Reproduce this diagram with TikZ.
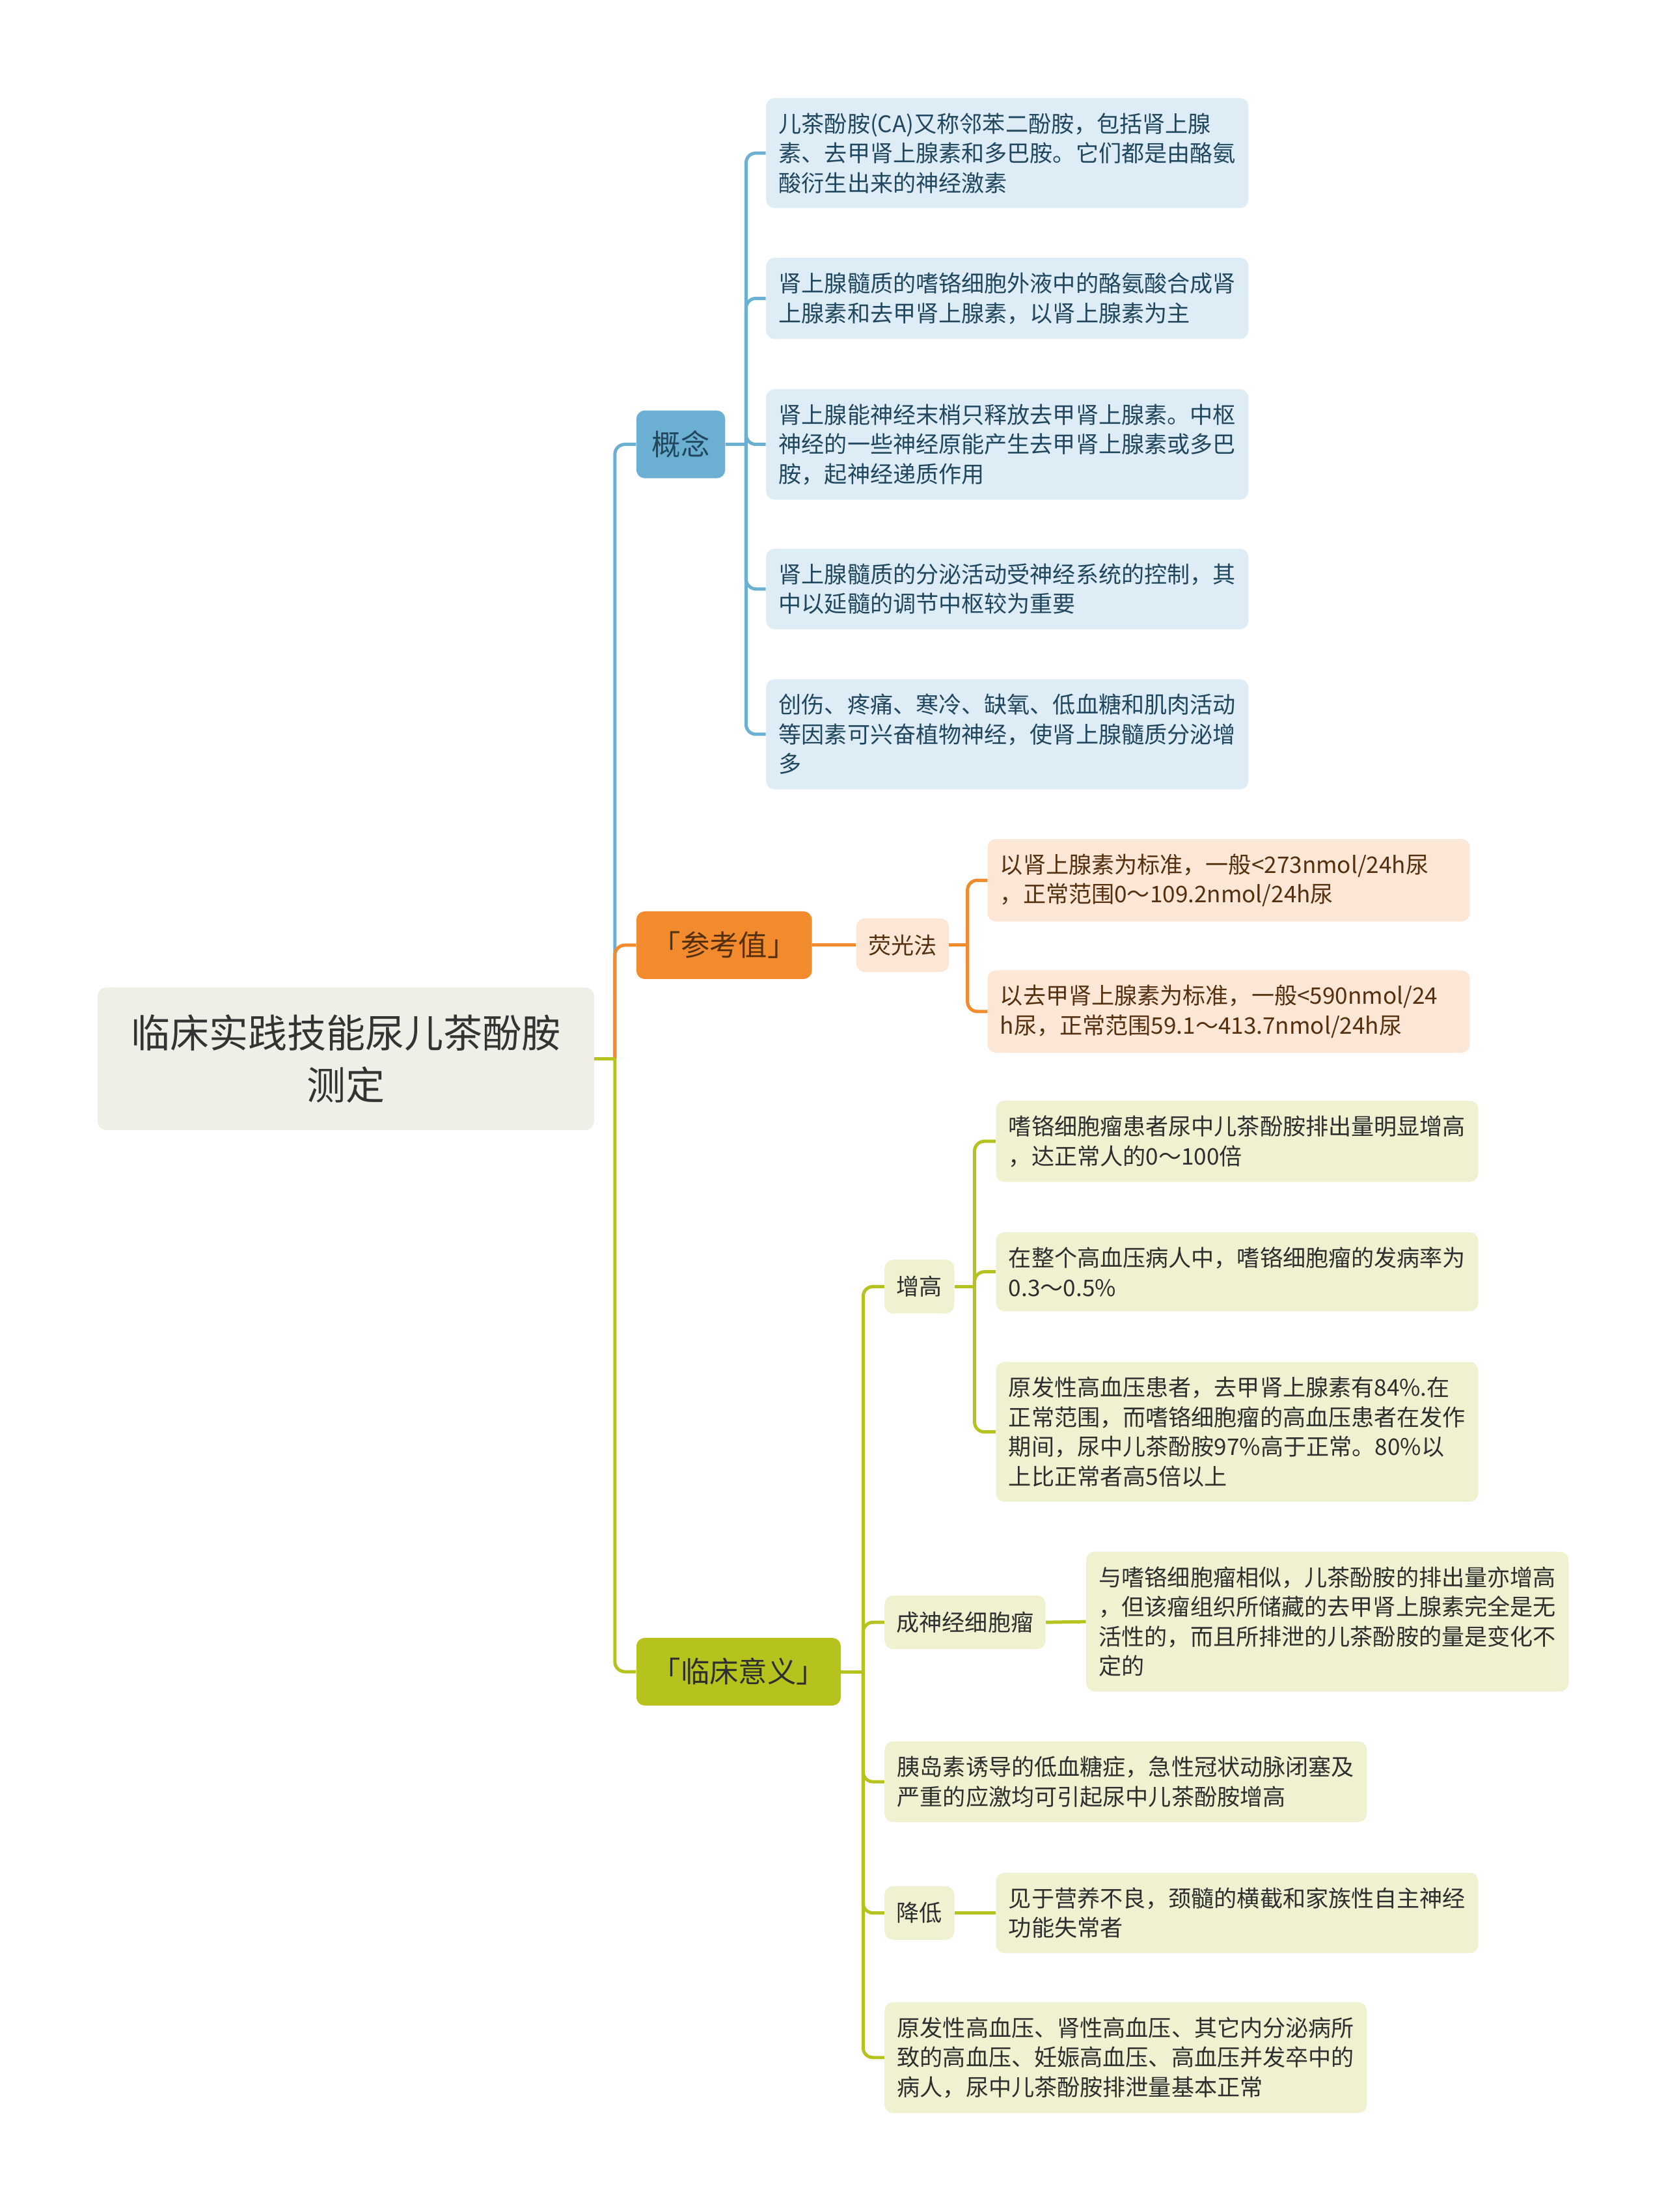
\documentclass[tikz,border=0pt]{standalone}
\usepackage{fontspec}
\setmainfont{Noto Sans CJK SC}
\usepackage{tikz}
\usetikzlibrary{positioning}
\definecolor{rootc}{HTML}{EFEFE8}
\definecolor{roott}{HTML}{333333}
\definecolor{bluec}{HTML}{6BAFD2}
\definecolor{bluel}{HTML}{DEEDF5}
\definecolor{bluet}{HTML}{21475F}
\definecolor{orac}{HTML}{F28A2E}
\definecolor{oral}{HTML}{FCE6D6}
\definecolor{orat}{HTML}{55300F}
\definecolor{grnc}{HTML}{B6C31E}
\definecolor{grnl}{HTML}{EFF1D0}
\definecolor{grnt}{HTML}{2E2E2E}
\tikzset{
  rootbox/.style={anchor=west,rounded corners=6pt,fill=rootc,text=roott,minimum width=352pt,minimum height=101pt,align=center,inner sep=0pt,font=\fontsize{27.7}{37}\selectfont},
  topic/.style={anchor=west,rounded corners=6pt,minimum height=48pt,inner xsep=11pt,inner ysep=0pt,font=\fontsize{20.5}{24}\selectfont},
  sub/.style={anchor=west,rounded corners=6pt,minimum height=38pt,inner xsep=8.5pt,inner ysep=0pt,font=\fontsize{16.2}{21}\selectfont},
  note/.style={anchor=west,rounded corners=6pt,text width=324pt,align=left,inner xsep=9pt,inner ysep=10.5pt,font=\fontsize{16.2}{21}\selectfont},
  bnote/.style={note,fill=bluel,text=bluet},
  onote/.style={note,fill=oral,text=orat},
  gnote/.style={note,fill=grnl,text=grnt},
  gsub/.style={sub,fill=grnl,text=grnt},
  link/.style={line width=2.3pt,rounded corners=7pt},
  bline/.style={link,draw=bluec},
  oline/.style={link,draw=orac},
  gline/.style={link,draw=grnc},
}
\begin{document}
\begin{tikzpicture}[x=1pt,y=-1pt]
  \useasboundingbox (0,0) rectangle (1181,1568);
  % 中心主题
  \node[rootbox] (root) at (69,750.5) {临床实践技能尿儿茶酚胺\\测定};
  % 一级分支
  \node[topic,fill=bluec,text=bluet] (gn) at (451,315) {概念};
  \node[topic,fill=orac,text=orat] (ckz) at (451,670) {「参考值」};
  \node[topic,fill=grnc,text=grnt] (lcyy) at (451,1185) {「临床意义」};
  \coordinate (jr) at (436,750.5);
  \draw[bline] (jr) |- (gn.west);
  \draw[oline] (jr) |- (ckz.west);
  \draw[gline] (jr) |- (lcyy.west);
  \draw[gline] (root.east) -- (jr);

  % 概念
  \node[bnote] (gn1) at (543,108.5) {儿茶酚胺(CA)又称邻苯二酚胺，包括肾上腺\\素、去甲肾上腺素和多巴胺。它们都是由酪氨\\酸衍生出来的神经激素};
  \node[bnote] (gn2) at (543,211.5) {肾上腺髓质的嗜铬细胞外液中的酪氨酸合成肾\\上腺素和去甲肾上腺素，以肾上腺素为主};
  \node[bnote] (gn3) at (543,315) {肾上腺能神经末梢只释放去甲肾上腺素。中枢\\神经的一些神经原能产生去甲肾上腺素或多巴\\胺，起神经递质作用};
  \node[bnote] (gn4) at (543,417.5) {肾上腺髓质的分泌活动受神经系统的控制，其\\中以延髓的调节中枢较为重要};
  \node[bnote] (gn5) at (543,520.5) {创伤、疼痛、寒冷、缺氧、低血糖和肌肉活动\\等因素可兴奋植物神经，使肾上腺髓质分泌增\\多};
  \coordinate (jgn) at (529,315);
  \draw[bline] (gn.east) -- (jgn);
  \foreach \i in {1,...,5}
    \draw[bline] (jgn) |- (gn\i.west);

  % 参考值
  \node[sub,fill=oral,text=orat] (ygf) at (607,670) {荧光法};
  \draw[oline] (ckz.east) -- (ygf.west);
  \node[onote] (ygf1) at (700,624) {以肾上腺素为标准，一般<273nmol/24h尿\\，正常范围0～109.2nmol/24h尿};
  \node[onote] (ygf2) at (700,717) {以去甲肾上腺素为标准，一般<590nmol/24\\h尿，正常范围59.1～413.7nmol/24h尿};
  \coordinate (jygf) at (686,670);
  \draw[oline] (ygf.east) -- (jygf);
  \foreach \i in {1,2}
    \draw[oline] (jygf) |- (ygf\i.west);

  % 临床意义
  \node[gsub] (zg) at (627,912) {增高};
  \node[gsub] (sjxb) at (627,1150) {成神经细胞瘤};
  \node[gnote] (yds) at (627,1263) {胰岛素诱导的低血糖症，急性冠状动脉闭塞及\\严重的应激均可引起尿中儿茶酚胺增高};
  \node[gsub] (jd) at (627,1356) {降低};
  \node[gnote] (yfx) at (627,1458.5) {原发性高血压、肾性高血压、其它内分泌病所\\致的高血压、妊娠高血压、高血压并发卒中的\\病人，尿中儿茶酚胺排泄量基本正常};
  \coordinate (jlc) at (612,1185);
  \draw[gline] (lcyy.east) -- (jlc);
  \foreach \n in {zg,sjxb,yds,jd,yfx}
    \draw[gline] (jlc) |- (\n.west);

  \node[gnote] (zg1) at (706,809) {嗜铬细胞瘤患者尿中儿茶酚胺排出量明显增高\\，达正常人的0～100倍};
  \node[gnote] (zg2) at (706,901.5) {在整个高血压病人中，嗜铬细胞瘤的发病率为\\0.3～0.5\%};
  \node[gnote] (zg3) at (706,1015) {原发性高血压患者，去甲肾上腺素有84\%.在\\正常范围，而嗜铬细胞瘤的高血压患者在发作\\期间，尿中儿茶酚胺97\%高于正常。80\%以\\上比正常者高5倍以上};
  \coordinate (jzg) at (691,912);
  \draw[gline] (zg.east) -- (jzg);
  \foreach \i in {1,2,3}
    \draw[gline] (jzg) |- (zg\i.west);

  \node[gnote] (sjxb1) at (770,1149.5) {与嗜铬细胞瘤相似，儿茶酚胺的排出量亦增高\\，但该瘤组织所储藏的去甲肾上腺素完全是无\\活性的，而且所排泄的儿茶酚胺的量是变化不\\定的};
  \draw[gline] (sjxb.east) -- (sjxb1.west);
  \node[gnote] (jd1) at (706,1356) {见于营养不良，颈髓的横截和家族性自主神经\\功能失常者};
  \draw[gline] (jd.east) -- (jd1.west);
\end{tikzpicture}
\end{document}
